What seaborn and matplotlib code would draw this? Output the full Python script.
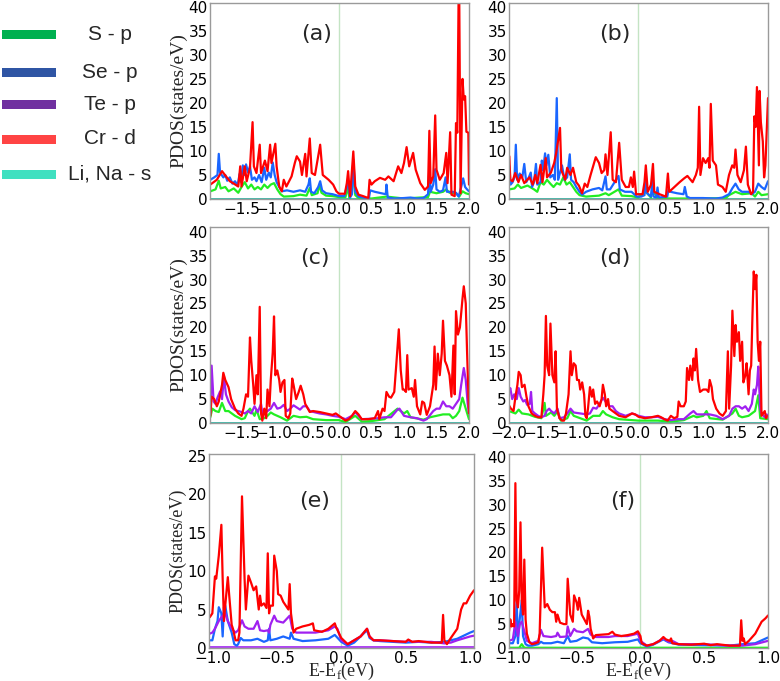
import matplotlib
matplotlib.use("Agg")
import matplotlib.pyplot as plt
from matplotlib.patches import Rectangle
import seaborn as sns

sns.set_style("white")
plt.rcParams["font.family"] = ["DejaVu Sans"]
plt.rcParams["mathtext.fontset"] = "custom"
plt.rcParams["mathtext.rm"] = "Liberation Serif"

# ---------------- legend ----------------
LEG_LABELS = ["S - p", "Se - p", "Te - p", "Cr - d", "Li, Na - s"]
LEG_COLORS = ["#00b050", "#2f55a4", "#7030a0", "#ff4444", "#40e0c0"]

# line colours
COL_S, COL_SE, COL_TE, COL_CR, COL_LI = "#22ee22", "#1a66ff", "#a020f0", "#ff0000", "#20b0a0"

PANELS = ["(a)", "(b)", "(c)", "(d)", "(e)", "(f)"]

# ---------------- panel (a) ----------------
A_CR = [(-1.98,3.0),(-1.88,4.0),(-1.8,5.8),(-1.75,4.9),(-1.68,3.7),(-1.63,3.3),(-1.55,2.6),(-1.52,6.8),(-1.5,2.6),
        (-1.45,6.8),(-1.42,3.7),(-1.37,6.5),(-1.33,16.0),(-1.31,6.8),(-1.27,5.4),(-1.22,11.3),(-1.2,5.4),(-1.14,8.0),
        (-1.1,5.8),(-1.06,11.3),(-1.04,7.5),(-0.98,11.5),(-0.96,6.8),(-0.92,2.6),(-0.88,1.6),(-0.85,4.0),(-0.81,2.6),
        (-0.73,4.7),(-0.68,7.5),(-0.65,8.9),(-0.6,7.8),(-0.57,5.0),(-0.52,9.4),(-0.5,4.7),(-0.45,12.6),(-0.42,5.4),
        (-0.37,5.0),(-0.29,11.3),(-0.25,5.0),(-0.16,4.0),(-0.09,3.0),(-0.04,1.6),(0.0,1.1),(0.09,1.1),(0.12,3.3),
        (0.14,5.8),(0.17,0.6),(0.22,9.9),(0.25,2.6),(0.3,0.9),(0.37,0.6),(0.45,0.2),(0.47,4.0),(0.5,3.0),(0.55,3.7),
        (0.63,4.4),(0.71,4.0),(0.76,4.7),(0.84,3.7),(0.91,6.8),(0.96,5.4),(1.0,7.5),(1.04,10.8),(1.08,6.8),(1.14,9.6),
        (1.18,6.1),(1.25,3.3),(1.32,1.9),(1.37,2.6),(1.39,14.2),(1.41,3.3),(1.45,4.7),(1.48,17.4),(1.5,6.1),(1.55,4.0),
        (1.61,5.4),(1.65,9.6),(1.67,3.3),(1.71,13.9),(1.73,0.9),(1.78,0.6),(1.8,15.8),(1.82,13.8),(1.84,42.0),(1.85,42.0),
        (1.87,1.2),(1.9,25.0),(1.92,20.7),(1.94,21.4),(1.96,14.0),(1.99,13.8),(2.0,3.0)]
A_SE = [(-1.98,4.0),(-1.92,4.5),(-1.87,5.0),(-1.85,9.4),(-1.83,5.5),(-1.78,4.5),(-1.75,5.0),(-1.72,3.8),(-1.68,4.5),
        (-1.64,3.2),(-1.6,3.7),(-1.56,2.8),(-1.53,5.2),(-1.51,3.6),(-1.48,7.0),(-1.46,5.0),(-1.43,7.2),(-1.4,5.5),
        (-1.37,6.8),(-1.34,4.0),(-1.3,4.5),(-1.27,3.7),(-1.23,5.0),(-1.19,3.5),(-1.15,6.5),(-1.12,4.0),(-1.08,5.5),
        (-1.05,4.5),(-1.02,7.6),(-0.99,5.0),(-0.96,3.5),(-0.92,2.5),(-0.88,1.6),(-0.8,1.8),(-0.7,1.5),(-0.6,1.8),
        (-0.52,1.5),(-0.47,3.0),(-0.45,4.3),(-0.43,1.5),(-0.38,1.2),(-0.32,2.5),(-0.29,3.7),(-0.26,1.8),(-0.2,1.2),
        (-0.1,1.0),(0.0,0.6),(0.08,0.6),(0.12,2.5),(0.14,3.3),(0.17,0.3),(0.2,1.0),(0.22,8.2),(0.25,1.5),(0.3,0.5),
        (0.4,0.2),(0.46,0.2),(0.48,1.8),(0.55,1.5),(0.65,1.2),(0.72,1.0),(0.73,3.0),(0.75,0.3),(0.85,0.1),(1.0,0.2),
        (1.1,0.3),(1.2,0.1),(1.3,0.2),(1.37,1.0),(1.39,6.5),(1.41,1.5),(1.45,3.0),(1.48,6.2),(1.5,2.0),(1.55,1.5),
        (1.6,1.8),(1.64,4.5),(1.66,1.5),(1.75,1.5),(1.8,1.3),(1.84,0.5),(1.88,2.5),(1.91,4.3),(1.94,2.5),(1.97,2.0),(2.0,1.6)]
A_S = [(-1.98,1.6),(-1.9,2.0),(-1.85,3.8),(-1.82,2.2),(-1.75,2.5),(-1.7,1.6),(-1.62,2.2),(-1.55,1.3),(-1.5,2.5),
       (-1.45,3.5),(-1.4,2.2),(-1.35,3.0),(-1.3,2.0),(-1.25,2.5),(-1.2,2.0),(-1.15,3.0),(-1.1,2.3),(-1.05,3.0),
       (-1.0,3.3),(-0.95,2.0),(-0.9,1.0),(-0.85,0.5),(-0.7,0.6),(-0.6,0.9),(-0.5,0.7),(-0.45,2.3),(-0.42,0.8),
       (-0.33,1.2),(-0.3,3.0),(-0.27,1.3),(-0.2,0.7),(-0.1,0.6),(0.0,0.4),(0.1,0.4),(0.13,2.5),(0.16,0.2),(0.22,5.0),
       (0.25,0.8),(0.3,0.2),(0.5,0.1),(0.73,0.5),(1.0,0.1),(1.37,0.4),(1.4,1.5),(1.5,1.2),(1.6,1.5),(1.65,2.0),
       (1.7,1.3),(1.8,1.2),(1.85,0.5),(1.9,1.6),(1.95,1.2),(2.0,1.0)]

# ---------------- panel (b) ----------------
B_CR = [(-1.98,8.9),(-1.965,4.0),(-1.93,3.7),(-1.89,5.4),(-1.84,3.5),(-1.8,5.0),(-1.75,3.3),(-1.67,4.5),(-1.62,3.0),
        (-1.58,5.0),(-1.55,3.3),(-1.5,7.1),(-1.47,3.5),(-1.42,8.5),(-1.4,4.5),(-1.34,5.5),(-1.29,7.5),(-1.26,9.5),
        (-1.2,14.8),(-1.18,6.0),(-1.15,5.0),(-1.12,4.0),(-1.09,6.5),(-1.04,5.0),(-1.0,6.5),(-0.95,3.5),(-0.91,2.8),
        (-0.86,1.2),(-0.82,3.2),(-0.78,2.5),(-0.73,5.0),(-0.65,8.7),(-0.6,7.5),(-0.56,5.4),(-0.52,6.0),(-0.5,9.3),
        (-0.47,5.0),(-0.42,13.9),(-0.39,4.0),(-0.34,3.5),(-0.29,11.7),(-0.25,4.0),(-0.19,2.5),(-0.14,2.5),(-0.11,4.5),
        (-0.08,2.5),(-0.06,5.7),(-0.03,1.0),(0.07,1.0),(0.1,3.5),(0.12,7.0),(0.15,1.5),(0.2,3.0),(0.23,7.3),(0.25,1.5),
        (0.33,1.0),(0.43,0.5),(0.46,5.3),(0.48,1.5),(0.56,2.5),(0.64,3.5),(0.71,4.3),(0.76,4.8),(0.84,3.5),(0.89,5.0),
        (0.92,6.5),(0.94,19.2),(0.96,5.0),(1.0,8.5),(1.04,7.5),(1.08,8.5),(1.1,6.5),(1.12,19.8),(1.15,8.0),(1.2,7.0),
        (1.23,3.0),(1.3,2.5),(1.35,1.5),(1.4,5.0),(1.45,7.0),(1.48,6.5),(1.5,10.3),(1.53,5.0),(1.58,3.5),(1.63,6.0),
        (1.66,10.9),(1.69,3.0),(1.74,1.0),(1.77,1.5),(1.79,17.2),(1.81,15.0),(1.83,23.3),(1.86,7.0),(1.87,22.5),
        (1.89,16.0),(1.92,12.0),(1.94,4.5),(1.96,7.0),(2.0,21.0)]
B_SE = [(-1.98,6.8),(-1.96,3.0),(-1.93,3.5),(-1.9,4.5),(-1.88,11.3),(-1.86,4.0),(-1.82,5.3),(-1.78,4.5),(-1.75,7.3),
        (-1.72,3.5),(-1.68,4.5),(-1.65,5.5),(-1.63,2.5),(-1.6,3.5),(-1.57,7.3),(-1.55,3.0),(-1.5,3.5),(-1.48,8.0),
        (-1.46,6.0),(-1.43,9.5),(-1.41,7.0),(-1.38,9.2),(-1.35,4.5),(-1.31,5.0),(-1.28,4.0),(-1.25,21.0),(-1.23,4.0),
        (-1.2,5.5),(-1.17,7.0),(-1.13,4.0),(-1.09,4.5),(-1.05,9.3),(-1.03,4.0),(-0.99,3.5),(-0.95,2.5),(-0.9,1.5),
        (-0.86,0.9),(-0.8,1.5),(-0.7,2.0),(-0.6,2.3),(-0.55,1.8),(-0.5,4.7),(-0.48,2.0),(-0.43,2.0),(-0.3,4.8),
        (-0.28,2.0),(-0.2,1.5),(-0.1,1.5),(-0.02,0.5),(0.05,0.5),(0.1,0.8),(0.12,5.0),(0.14,1.2),(0.2,0.5),(0.22,4.2),
        (0.24,0.5),(0.28,0.3),(0.3,2.4),(0.32,0.3),(0.45,0.5),(0.47,2.0),(0.5,1.5),(0.6,1.2),(0.7,1.0),(0.72,2.5),
        (0.75,0.5),(0.8,0.2),(1.0,0.2),(1.2,0.1),(1.3,0.3),(1.4,1.0),(1.45,2.2),(1.5,3.2),(1.55,2.0),(1.6,1.5),
        (1.7,1.5),(1.75,1.0),(1.8,1.5),(1.85,3.2),(1.9,2.5),(1.95,2.0),(2.0,3.7)]
B_S = [(-1.98,2.0),(-1.9,2.2),(-1.85,3.0),(-1.8,2.3),(-1.7,2.8),(-1.6,2.0),(-1.55,1.5),(-1.5,3.5),(-1.45,3.0),
       (-1.4,4.0),(-1.35,3.2),(-1.3,2.5),(-1.25,3.3),(-1.2,3.0),(-1.15,4.5),(-1.1,3.0),(-1.05,3.5),(-1.0,2.5),
       (-0.95,1.5),(-0.9,0.8),(-0.8,0.5),(-0.6,0.7),(-0.5,1.2),(-0.45,0.8),(-0.3,2.0),(-0.25,0.7),(-0.1,0.6),
       (0.0,0.3),(0.12,1.5),(0.2,0.3),(0.22,2.0),(0.3,0.2),(0.5,0.1),(1.0,0.1),(1.35,0.2),(1.4,0.8),(1.5,1.5),
       (1.6,1.0),(1.75,1.2),(1.8,0.5),(1.85,1.5),(1.9,0.8),(2.0,1.0)]

# ---------------- panel (c) ----------------
C_CR = [(-1.98,1.5),(-1.96,5.5),(-1.92,5.0),(-1.88,3.5),(-1.85,4.5),(-1.8,8.0),(-1.78,10.5),(-1.75,9.0),(-1.7,7.5),
        (-1.66,5.0),(-1.6,3.0),(-1.55,2.0),(-1.5,1.5),(-1.47,3.0),(-1.43,6.0),(-1.4,5.5),(-1.37,17.9),(-1.35,13.0),
        (-1.32,8.0),(-1.3,4.0),(-1.27,10.0),(-1.25,6.0),(-1.22,24.3),(-1.2,2.0),(-1.18,0.5),(-1.15,3.0),(-1.12,1.0),
        (-1.1,7.0),(-1.07,3.5),(-1.05,9.0),(-1.02,14.7),(-1.0,22.3),(-0.98,10.0),(-0.95,11.0),(-0.92,9.0),(-0.9,6.5),
        (-0.87,8.5),(-0.84,9.0),(-0.82,1.5),(-0.78,1.0),(-0.75,2.0),(-0.72,9.3),(-0.7,8.0),(-0.66,5.0),(-0.62,6.5),
        (-0.59,7.8),(-0.55,6.0),(-0.52,4.0),(-0.45,2.3),(-0.4,2.5),(-0.3,2.3),(-0.2,2.0),(-0.1,1.7),(-0.05,2.0),
        (0.0,1.5),(0.05,1.0),(0.1,0.5),(0.15,0.8),(0.2,1.5),(0.25,2.5),(0.3,1.8),(0.35,0.8),(0.45,0.8),(0.55,1.0),
        (0.6,2.5),(0.62,0.8),(0.67,3.0),(0.7,2.5),(0.73,6.5),(0.77,5.5),(0.8,5.3),(0.85,6.5),(0.88,12.0),(0.92,19.6),
        (0.95,11.0),(0.98,7.0),(1.0,7.0),(1.03,6.5),(1.05,14.2),(1.07,7.0),(1.12,7.3),(1.15,5.5),(1.17,9.0),(1.2,3.5),
        (1.25,1.8),(1.28,4.5),(1.31,4.2),(1.35,1.7),(1.4,3.5),(1.45,8.0),(1.47,16.0),(1.49,7.0),(1.52,14.5),(1.55,10.0),
        (1.58,14.5),(1.6,21.4),(1.63,13.0),(1.66,12.0),(1.7,10.0),(1.73,5.5),(1.76,16.2),(1.78,6.0),(1.8,23.4),
        (1.83,18.5),(1.86,20.0),(1.9,26.0),(1.92,28.6),(1.95,25.0),(1.97,15.0),(2.0,2.0)]
C_TE = [(-1.98,2.0),(-1.96,12.0),(-1.93,4.5),(-1.9,4.0),(-1.87,5.3),(-1.83,6.6),(-1.8,5.0),(-1.77,9.7),(-1.74,6.0),
        (-1.7,4.5),(-1.65,3.3),(-1.6,2.7),(-1.5,2.3),(-1.45,2.0),(-1.4,2.5),(-1.35,2.0),(-1.3,3.5),(-1.25,2.3),
        (-1.2,4.0),(-1.18,2.0),(-1.1,2.5),(-1.05,3.0),(-1.0,4.2),(-0.95,3.0),(-0.9,3.2),(-0.85,3.8),(-0.8,2.5),
        (-0.75,3.0),(-0.7,3.7),(-0.6,2.8),(-0.55,3.5),(-0.5,3.5),(-0.45,2.5),(-0.3,2.0),(-0.2,1.8),(-0.1,1.5),
        (0.0,1.3),(0.1,0.8),(0.2,1.5),(0.25,2.3),(0.3,1.5),(0.35,0.8),(0.5,0.9),(0.6,1.0),(0.7,1.2),(0.8,1.2),
        (0.9,2.8),(0.93,3.0),(1.0,1.5),(1.1,1.2),(1.2,1.0),(1.3,0.5),(1.35,0.8),(1.45,2.5),(1.5,3.0),(1.55,3.0),
        (1.6,4.5),(1.65,3.5),(1.7,3.5),(1.75,3.0),(1.8,4.0),(1.85,5.0),(1.88,8.0),(1.92,11.5),(1.95,9.0),(1.98,4.0),(2.0,2.0)]
C_SP = [(-1.98,1.2),(-1.95,3.0),(-1.9,2.5),(-1.85,2.3),(-1.8,4.2),(-1.75,2.5),(-1.7,2.5),(-1.6,1.5),(-1.5,0.8),
        (-1.45,1.0),(-1.4,2.5),(-1.37,3.0),(-1.3,1.5),(-1.27,2.8),(-1.22,0.8),(-1.15,1.0),(-1.1,1.5),(-1.05,2.2),
        (-1.0,1.8),(-0.9,1.2),(-0.8,0.5),(-0.7,1.5),(-0.6,1.2),(-0.5,1.3),(-0.4,0.8),(-0.2,0.6),(0.0,0.6),(0.1,0.2),
        (0.25,1.5),(0.35,0.3),(0.5,0.4),(0.7,0.8),(0.9,3.0),(0.95,2.5),(1.0,2.0),(1.05,2.5),(1.1,1.2),(1.3,0.7),
        (1.4,1.2),(1.5,1.5),(1.6,1.8),(1.7,1.8),(1.75,1.0),(1.8,1.5),(1.85,2.5),(1.9,5.3),(1.95,3.0),(2.0,0.8)]

# ---------------- panel (d) ----------------
D_CR = [(-2.0,3.7),(-1.97,3.0),(-1.93,2.5),(-1.9,5.5),(-1.87,8.0),(-1.85,10.7),(-1.82,10.0),(-1.8,7.5),(-1.76,8.0),
        (-1.73,5.5),(-1.7,3.5),(-1.65,2.0),(-1.6,1.5),(-1.55,1.2),(-1.5,1.2),(-1.47,6.0),(-1.45,10.0),(-1.43,22.4),
        (-1.41,12.0),(-1.38,10.0),(-1.36,20.8),(-1.33,10.0),(-1.3,8.5),(-1.28,15.0),(-1.26,3.0),(-1.22,1.0),
        (-1.18,0.5),(-1.15,0.5),(-1.12,2.0),(-1.08,6.0),(-1.05,15.0),(-1.03,10.0),(-1.0,12.5),(-0.97,12.0),(-0.95,9.0),
        (-0.92,9.0),(-0.9,7.0),(-0.87,8.5),(-0.84,6.0),(-0.82,1.5),(-0.8,1.0),(-0.78,3.0),(-0.75,7.5),(-0.72,5.5),
        (-0.7,7.0),(-0.67,4.0),(-0.64,4.5),(-0.6,3.5),(-0.57,5.0),(-0.55,8.0),(-0.52,6.0),(-0.5,3.5),(-0.47,5.0),
        (-0.45,3.0),(-0.4,2.5),(-0.3,1.5),(-0.2,1.2),(-0.1,2.0),(-0.05,1.8),(0.0,1.3),(0.1,1.0),(0.2,1.2),(0.3,1.5),
        (0.35,1.2),(0.4,0.8),(0.45,0.5),(0.5,1.5),(0.55,1.0),(0.6,1.3),(0.62,4.5),(0.65,3.5),(0.7,3.5),(0.73,4.5),
        (0.75,11.5),(0.78,9.0),(0.8,12.0),(0.83,9.0),(0.85,13.5),(0.87,11.0),(0.89,15.5),(0.92,9.0),(0.95,6.5),
        (1.0,7.0),(1.05,7.0),(1.08,6.5),(1.1,9.0),(1.13,7.5),(1.15,5.0),(1.2,3.0),(1.25,2.0),(1.3,1.5),(1.35,2.5),
        (1.38,15.0),(1.4,3.0),(1.43,12.0),(1.45,23.5),(1.48,14.0),(1.5,20.5),(1.52,17.0),(1.55,19.0),(1.57,13.0),
        (1.6,17.0),(1.62,8.5),(1.65,10.0),(1.67,12.5),(1.7,6.0),(1.72,11.0),(1.74,12.0),(1.76,22.5),(1.78,31.7),
        (1.8,28.0),(1.82,31.0),(1.84,17.0),(1.86,13.0),(1.88,17.0),(1.9,1.5),(1.95,2.5),(1.97,1.0),(2.0,1.5)]
D_TE = [(-2.0,6.5),(-1.98,7.3),(-1.95,5.0),(-1.92,6.0),(-1.88,5.0),(-1.85,7.3),(-1.82,5.5),(-1.78,4.5),(-1.75,4.8),
        (-1.72,3.8),(-1.68,4.0),(-1.66,6.5),(-1.64,2.5),(-1.6,2.0),(-1.55,1.5),(-1.5,1.2),(-1.45,1.5),(-1.42,2.5),
        (-1.38,3.0),(-1.35,2.5),(-1.3,2.0),(-1.25,3.0),(-1.22,1.0),(-1.15,1.2),(-1.1,2.0),(-1.05,3.0),(-1.0,2.2),
        (-0.9,2.0),(-0.8,1.8),(-0.75,2.0),(-0.7,3.2),(-0.65,3.0),(-0.6,4.0),(-0.55,5.3),(-0.5,4.3),(-0.45,3.5),
        (-0.4,3.5),(-0.35,2.5),(-0.3,2.0),(-0.2,1.5),(-0.1,2.0),(0.0,1.5),(0.1,1.2),(0.2,1.2),(0.3,1.3),(0.4,0.8),
        (0.5,0.6),(0.6,0.8),(0.7,0.8),(0.8,2.0),(0.85,2.5),(0.9,1.8),(1.0,1.8),(1.1,1.8),(1.2,1.5),(1.3,0.8),
        (1.4,1.5),(1.45,3.0),(1.5,3.5),(1.55,3.5),(1.6,3.0),(1.65,3.5),(1.7,2.5),(1.75,4.0),(1.78,7.0),(1.8,6.0),
        (1.83,8.0),(1.85,11.8),(1.88,3.0),(1.9,2.0),(1.95,1.2),(1.98,1.8),(2.0,1.5)]
D_S = [(-2.0,2.5),(-1.9,2.0),(-1.85,2.8),(-1.8,2.0),(-1.7,1.8),(-1.6,1.3),(-1.5,1.0),(-1.45,4.2),(-1.43,1.5),
       (-1.35,2.2),(-1.3,1.5),(-1.25,2.5),(-1.2,0.5),(-1.1,1.0),(-1.05,2.5),(-1.0,1.5),(-0.9,1.0),(-0.8,0.5),
       (-0.7,1.5),(-0.6,1.5),(-0.55,2.5),(-0.5,1.8),(-0.4,1.2),(-0.3,0.8),(0.0,0.5),(0.3,0.5),(0.5,0.3),(0.7,0.6),
       (0.85,1.5),(0.9,1.2),(1.0,1.5),(1.05,2.5),(1.1,1.0),(1.3,0.7),(1.45,2.0),(1.5,3.0),(1.55,1.5),(1.6,1.2),
       (1.7,1.5),(1.8,2.5),(1.85,5.8),(1.88,1.0),(2.0,0.8)]

# ---------------- panel (e) ----------------
E_CR = [(-1.03,4.5),(-1.02,4.0),(-1.0,4.5),(-0.98,9.3),(-0.97,9.0),(-0.95,12.0),(-0.93,16.0),(-0.92,9.0),(-0.91,3.5),
        (-0.9,5.5),(-0.88,9.2),(-0.87,7.0),(-0.85,3.0),(-0.84,2.5),(-0.82,1.0),(-0.8,1.0),(-0.79,2.0),(-0.77,19.7),
        (-0.75,9.0),(-0.74,5.0),(-0.72,9.4),(-0.7,8.5),(-0.68,7.5),(-0.66,8.0),(-0.64,5.0),(-0.63,6.8),(-0.62,5.5),
        (-0.6,5.8),(-0.58,5.2),(-0.57,12.3),(-0.56,4.5),(-0.55,5.5),(-0.53,5.5),(-0.52,12.0),(-0.5,10.0),(-0.49,7.0),
        (-0.47,6.8),(-0.45,6.0),(-0.43,5.5),(-0.41,5.0),(-0.4,8.3),(-0.39,4.5),(-0.37,2.0),(-0.35,2.5),(-0.3,2.8),
        (-0.25,3.0),(-0.22,3.2),(-0.21,2.3),(-0.15,2.1),(-0.1,2.5),(-0.05,3.2),(-0.04,2.7),(-0.02,2.0),(0.0,1.3),
        (0.05,0.5),(0.1,1.0),(0.15,1.5),(0.2,2.5),(0.22,1.5),(0.25,1.0),(0.3,1.0),(0.4,0.9),(0.5,0.8),(0.52,1.1),
        (0.55,0.8),(0.6,0.9),(0.7,0.7),(0.78,0.7),(0.79,4.3),(0.8,1.0),(0.82,0.5),(0.85,1.3),(0.9,2.5),(0.93,5.0),
        (0.95,5.8),(0.97,5.8),(1.0,6.8),(1.03,7.5)]
E_TE = [(-1.03,1.8),(-1.0,2.0),(-0.98,2.5),(-0.95,3.5),(-0.93,4.0),(-0.9,4.5),(-0.88,3.5),(-0.85,2.5),(-0.82,2.0),
        (-0.8,2.3),(-0.77,3.6),(-0.75,2.8),(-0.72,2.5),(-0.68,2.5),(-0.65,3.5),(-0.63,2.3),(-0.6,2.2),(-0.57,2.3),
        (-0.56,2.0),(-0.55,3.0),(-0.52,4.2),(-0.5,3.5),(-0.45,3.3),(-0.4,4.2),(-0.38,2.5),(-0.35,2.0),(-0.3,2.0),
        (-0.2,2.0),(-0.1,2.3),(-0.05,2.8),(-0.03,2.5),(0.0,1.0),(0.05,0.5),(0.1,1.0),(0.15,1.5),(0.2,2.5),(0.22,1.5),
        (0.25,1.0),(0.3,1.0),(0.4,0.9),(0.5,0.8),(0.52,1.0),(0.55,0.8),(0.7,0.8),(0.8,0.6),(0.85,0.7),(0.9,1.0),
        (1.0,1.5),(1.03,1.6)]
E_SE = [(-1.03,1.0),(-1.0,1.0),(-0.98,2.5),(-0.96,3.5),(-0.95,5.3),(-0.93,4.5),(-0.92,1.5),(-0.91,5.3),(-0.9,5.5),
        (-0.88,3.5),(-0.85,2.0),(-0.83,0.5),(-0.81,0.3),(-0.8,0.5),(-0.78,1.3),(-0.76,1.0),(-0.7,1.0),(-0.65,1.2),
        (-0.6,0.8),(-0.57,1.0),(-0.56,2.5),(-0.55,1.0),(-0.5,1.2),(-0.45,1.5),(-0.4,1.2),(-0.39,2.0),(-0.37,1.2),
        (-0.3,0.9),(-0.2,1.0),(-0.1,1.2),(-0.05,1.7),(0.0,0.8),(0.05,0.3),(0.1,0.7),(0.2,2.3),(0.22,1.3),(0.25,1.0),
        (0.3,0.9),(0.5,0.7),(0.6,0.8),(0.7,0.7),(0.8,0.8),(0.85,1.0),(0.9,1.2),(1.0,2.0),(1.03,2.2)]

# ---------------- panel (f) ----------------
F_CR = [(-1.03,3.5),(-1.02,6.0),(-1.01,4.5),(-1.0,5.0),(-0.99,4.5),(-0.98,34.5),(-0.97,10.0),(-0.96,8.5),(-0.95,12.0),
        (-0.94,26.3),(-0.93,10.0),(-0.92,7.0),(-0.91,18.5),(-0.9,6.0),(-0.89,3.0),(-0.87,1.2),(-0.85,0.8),(-0.82,1.0),
        (-0.8,1.2),(-0.79,3.0),(-0.77,21.0),(-0.75,8.5),(-0.73,9.2),(-0.71,8.0),(-0.69,7.5),(-0.67,7.5),(-0.66,5.5),
        (-0.65,7.0),(-0.63,5.3),(-0.6,5.0),(-0.58,5.0),(-0.57,14.5),(-0.55,7.0),(-0.53,5.5),(-0.52,11.0),(-0.5,9.5),
        (-0.49,8.0),(-0.48,10.5),(-0.46,7.0),(-0.44,6.0),(-0.42,5.0),(-0.41,7.8),(-0.4,6.5),(-0.39,4.0),(-0.37,2.0),
        (-0.35,2.7),(-0.3,2.8),(-0.25,2.9),(-0.22,3.4),(-0.2,2.8),(-0.15,2.5),(-0.1,2.7),(-0.05,3.0),(-0.02,3.5),
        (0.0,2.5),(0.01,1.0),(0.05,0.5),(0.1,0.8),(0.15,1.5),(0.18,2.3),(0.2,1.8),(0.23,1.5),(0.24,2.0),(0.25,1.0),
        (0.3,0.8),(0.4,0.7),(0.5,0.9),(0.55,0.6),(0.6,0.8),(0.7,0.5),(0.78,0.5),(0.79,5.8),(0.8,1.5),(0.81,2.0),
        (0.82,0.8),(0.85,1.5),(0.9,3.0),(0.93,4.5),(0.95,5.5),(0.98,6.2),(1.0,6.8)]
F_TE = [(-1.03,1.5),(-1.0,1.8),(-0.98,5.5),(-0.96,2.5),(-0.945,5.0),(-0.93,5.5),(-0.91,3.5),(-0.89,1.5),(-0.85,1.0),
        (-0.8,1.5),(-0.78,3.8),(-0.76,2.5),(-0.7,2.3),(-0.66,2.5),(-0.65,3.2),(-0.63,2.3),(-0.58,2.4),(-0.57,4.5),
        (-0.55,2.5),(-0.52,4.0),(-0.5,3.5),(-0.45,3.3),(-0.41,4.0),(-0.39,2.8),(-0.35,2.3),(-0.25,2.3),(-0.2,2.5),
        (-0.1,2.5),(-0.02,3.0),(0.0,1.5),(0.05,0.5),(0.1,0.8),(0.18,2.0),(0.22,1.3),(0.25,1.5),(0.3,0.8),(0.5,0.8),
        (0.7,0.5),(0.8,0.5),(0.9,0.8),(1.0,1.5)]
F_SE = [(-1.03,1.0),(-1.0,1.0),(-0.98,2.5),(-0.97,10.0),(-0.96,1.0),(-0.95,5.0),(-0.93,10.0),(-0.92,2.5),(-0.9,0.8),
        (-0.88,0.5),(-0.85,0.5),(-0.8,0.8),(-0.78,1.3),(-0.76,1.0),(-0.7,1.0),(-0.65,1.3),(-0.6,1.0),(-0.57,2.5),
        (-0.55,1.3),(-0.5,1.5),(-0.45,2.2),(-0.41,2.0),(-0.38,1.2),(-0.3,1.0),(-0.2,1.2),(-0.1,1.3),(-0.02,1.8),
        (0.0,1.0),(0.05,0.3),(0.1,0.7),(0.18,1.8),(0.22,1.2),(0.3,0.7),(0.5,0.6),(0.7,0.5),(0.8,0.8),(0.9,1.0),(1.0,2.2)]
F_S = [(-1.03,0.05),(-0.95,0.05),(-0.93,0.8),(-0.91,0.05),(1.0,0.05)]

ZERO_LINE = [(-2.0,0.08),(2.0,0.08)]

# panel geometry in pixels (left, right, top, bottom), limits and ticks
W, H = 780, 681
GEOM = [(210, 469, 3, 199), (509, 768, 3, 199), (210, 469, 227, 423), (509, 768, 227, 423),
        (209, 474, 454, 648), (509, 768, 454, 648)]
XLIMS = [(-1.985, 2.0), (-1.985, 2.0), (-1.985, 2.0), (-2.0, 2.0), (-1.026, 1.03), (-1.03, 1.0)]
YLIMS = [(0, 40.8), (0, 40.8), (0, 41.0), (0, 41.0), (0, 25.2), (0, 40.6)]
XTICKS_LONG = [-1.5, -1.0, -0.5, 0.0, 0.5, 1.0, 1.5, 2.0]
XTICKS_D = [-2.0, -1.5, -1.0, -0.5, 0.0, 0.5, 1.0, 1.5, 2.0]
XTICKS_SHORT = [-1.0, -0.5, 0.0, 0.5, 1.0]
LABEL_POS = [(0.41, 0.84), (0.41, 0.84), (0.405, 0.84), (0.41, 0.84), (0.40, 0.76), (0.44, 0.76)]

SERIES = [
    [(A_S, COL_S), (A_SE, COL_SE), (A_CR, COL_CR)],
    [(B_S, COL_S), (B_SE, COL_SE), (B_CR, COL_CR)],
    [(C_SP, COL_S), (C_TE, COL_TE), (C_CR, COL_CR)],
    [(D_S, COL_S), (D_TE, COL_TE), (D_CR, COL_CR)],
    [(E_SE, COL_SE), (E_TE, COL_TE), (E_CR, COL_CR)],
    [(F_S, COL_S), (F_SE, COL_SE), (F_TE, COL_TE), (F_CR, COL_CR)],
]

fig = plt.figure(figsize=(W / 100, H / 100), dpi=100)

for i, (l, r, t, b) in enumerate(GEOM):
    ax = fig.add_axes([l / W, (H - b) / H, (r - l) / W, (b - t) / H])
    ax.axvline(0, color="#c4e4c4", lw=1.0, zorder=1)
    zero_col = COL_TE if i == 4 else COL_LI
    zx, zy = zip(*ZERO_LINE)
    sns.lineplot(x=list(zx), y=list(zy), ax=ax, color=zero_col, lw=1.2, estimator=None, sort=False)
    for pts, col in SERIES[i]:
        xs, ys = zip(*pts)
        sns.lineplot(x=list(xs), y=list(ys), ax=ax, color=col, lw=1.6, estimator=None, sort=False)
    ax.set_xlim(*XLIMS[i])
    ax.set_ylim(*YLIMS[i])
    if i in (0, 1, 2):
        ax.set_xticks(XTICKS_LONG)
    elif i == 3:
        ax.set_xticks(XTICKS_D)
    else:
        ax.set_xticks(XTICKS_SHORT)
    top = 25 if i == 4 else 40
    ax.set_yticks(list(range(0, top + 1, 5)))
    ax.tick_params(axis="both", length=0, labelsize=11, colors="black")
    ax.tick_params(axis="x", pad=2)
    ax.tick_params(axis="y", pad=1.5)
    for sp in ax.spines.values():
        sp.set_color("#9a9a9a")
        sp.set_linewidth(1.0)
    ax.text(LABEL_POS[i][0], LABEL_POS[i][1], PANELS[i], transform=ax.transAxes,
            fontsize=16, ha="center", va="center")
    if i % 2 == 0:
        ax.set_ylabel("PDOS(states/eV)", family="Liberation Serif",
                      fontsize=14 if i < 4 else 13, labelpad=1)
    else:
        ax.set_ylabel("")
    if i >= 4:
        ax.set_xlabel("E-E$_\\mathrm{f}$(eV)", family="Liberation Serif", fontsize=13)
        ax.xaxis.set_label_coords(0.5, -0.12)
        ax.xaxis.label.set_va("center")
    else:
        ax.set_xlabel("")

# legend block on the left
LEG_Y = [34.5, 72, 104, 139, 174]
ax_leg = fig.add_axes([0, 0, 170 / W, 1])
ax_leg.set_xlim(0, 170)
ax_leg.set_ylim(H, 0)
ax_leg.axis("off")
for lab, col, cy in zip(LEG_LABELS, LEG_COLORS, LEG_Y):
    ax_leg.add_patch(Rectangle((2, cy - 4.5), 54, 9, color=col, lw=0))
    ax_leg.text(110, cy, lab, family="Liberation Sans", fontsize=15, ha="center", va="center")

fig.savefig("out.png", dpi=100)
